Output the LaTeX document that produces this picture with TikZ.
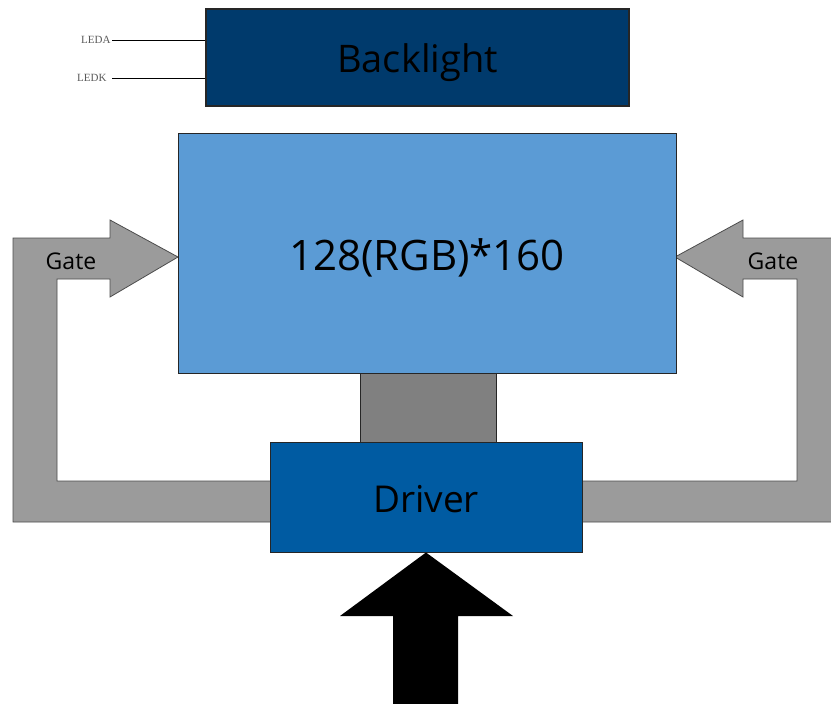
\documentclass[tikz,border=0pt]{standalone}
\usepackage{fontspec}
\setmainfont{Open Sans}
\newfontfamily\pinfont{Liberation Serif}
\usetikzlibrary{%
  positioning,% wg. " of "
  calc%
}
\definecolor{backlightblue}{HTML}{003A6C}
\definecolor{panelblue}{HTML}{5B9BD5}
\definecolor{driverblue}{HTML}{005BA2}
\definecolor{gatefill}{HTML}{9B9B9B}
\definecolor{linkfill}{HTML}{808080}

\begin{document}
\begin{tikzpicture}[
  x=1pt, y=-1pt, line width=1pt,
  box/.style={draw=black!85, inner sep=0pt},
  gatearrow/.style={fill=gatefill, draw=black!70, line width=0.8pt},
  pin/.style={font=\pinfont\fontsize{11}{11}\selectfont, text=black!65, inner sep=1pt}
]
\useasboundingbox (0,0) rectangle (831,704);

% gate arrows (behind the boxes)
\draw[gatearrow] (13,238) -- (110,238) -- (110,220) -- (178,257) -- (110,297)
  -- (110,279) -- (57,279) -- (57,481) -- (300,481) -- (300,522) -- (13,522) -- cycle;
\draw[gatearrow] (675,257) -- (743,220) -- (743,238) -- (845,238) -- (845,522)
  -- (560,522) -- (560,481) -- (797,481) -- (797,279) -- (743,279) -- (743,297) -- cycle;
\node (gateL) at (71,261) {\fontsize{23}{23}\selectfont Gate};
\node (gateR) at (773,261) {\fontsize{23}{23}\selectfont Gate};

% boxes
\node[box, fill=backlightblue, line width=1.5pt, minimum width=423pt, minimum height=97pt]
  (backlight) at (417.5,57.5) {};
\node[box, fill=panelblue, minimum width=498pt, minimum height=240pt]
  (panel) at (427,253) {};
\node[box, fill=linkfill, minimum width=136pt, minimum height=69pt]
  (link) at (428,407.5) {};
\node[box, fill=driverblue, minimum width=312pt, minimum height=110pt]
  (driver) at (426,497) {};

% box texts
\node (backlighttext) at ($(backlight)+(0,5)$) {\fontsize{38}{38}\selectfont Backlight};
\node (paneltext) at ($(panel)+(0,5)$) {\fontsize{42}{42}\selectfont 128(RGB)*160};
\node (drivertext) at ($(driver)+(0,2)$) {\fontsize{37}{37}\selectfont Driver};

% backlight pins
\node[pin, anchor=east] (leda) at (112,40) {LEDA};
\node[pin, anchor=east] (ledk) at (108,78) {LEDK};
\draw[line width=0.8pt] (leda.east) -- (leda.east -| backlight.west);
\draw[line width=0.8pt] ($(ledk.east)+(4,0)$) -- (ledk.east -| backlight.west);

% input arrow
\fill[black] (driver.south) -- (513,616) -- (458,616) -- (458,710) -- (393,710)
  -- (393,616) -- (340,616) -- cycle;
\end{tikzpicture}
\end{document}
